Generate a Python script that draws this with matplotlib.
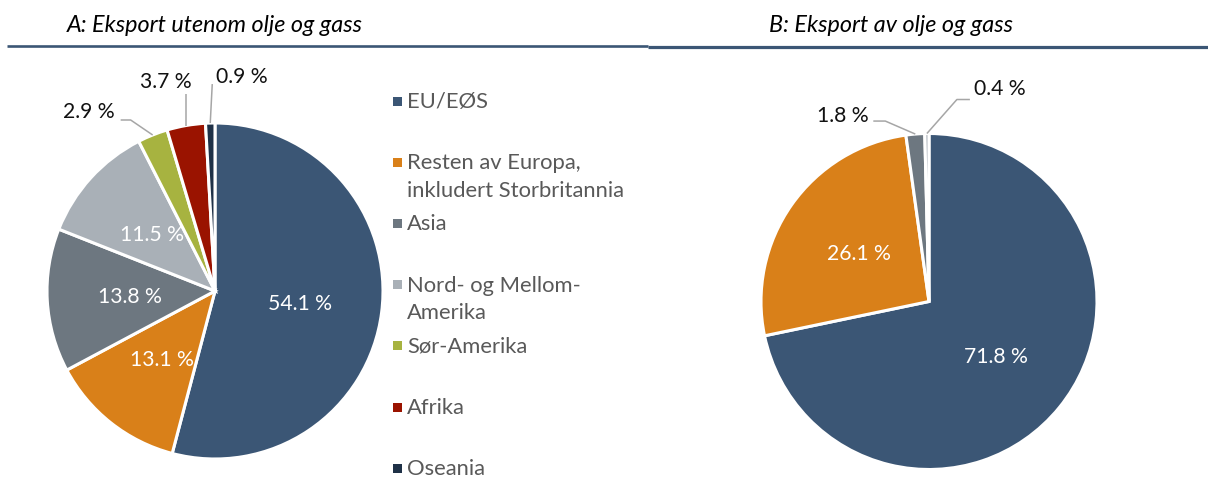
import numpy as np

import matplotlib
matplotlib.use("Agg")
import matplotlib.pyplot as plt
from matplotlib.patches import Rectangle

plt.rcParams['font.family'] = ['Lato', 'DejaVu Sans']

# ------------------------------------------------------------------------------------------
# data

regions = ['EU/EØS', 'Resten av Europa,\ninkludert Storbritannia', 'Asia',
           'Nord- og Mellom-\nAmerika', 'Sør-Amerika', 'Afrika', 'Oseania']
colors = ['#3B5675', '#D98019', '#6D7780', '#A9B0B7', '#A7B340', '#9A1300', '#1F3147']

share_a = [54.1, 13.1, 13.8, 11.5, 2.9, 3.7, 0.9]   # eksport utenom olje og gass
share_b = [71.8, 26.1, 1.8, 0.4]                     # eksport av olje og gass

title_a = 'A: Eksport utenom olje og gass'
title_b = 'B: Eksport av olje og gass'

# ------------------------------------------------------------------------------------------
# layout (everything in pixels, y measured from the top of the picture)

W, H = 1208, 479
LINE_COL = '#A6A6A6'
LABEL_FS = 15.2


def Y(y_img):
    return H - y_img


fig = plt.figure(figsize=(W / 100, H / 100), dpi=100)
ax = fig.add_axes([0, 0, 1, 1])

# outside labels: slice index -> (leader elbow, leader end, text offset, ha), pixel offsets from the slice edge
outside_a = {
    4: ((-22, 15), (-32, 15), (-38, 17), 'right'),
    5: ((0, 32), (0, 32), (-20, 38), 'center'),
    6: ((2, 39), (2, 39), (6, 40), 'left'),
}
outside_b = {
    2: ((-30, 13), (-42, 13), (-47, 12), 'right'),
    3: ((30, 34), (43, 34), (47, 39), 'left'),
}


def draw_pie(values, cx, cy, radius, outside):
    wedges, _ = ax.pie(values, colors=colors[:len(values)], startangle=90, counterclock=False,
                       center=(cx, Y(cy)), radius=radius, frame=True,
                       wedgeprops=dict(edgecolor='white', linewidth=2.2))
    for i, (w, v) in enumerate(zip(wedges, values)):
        mid = np.deg2rad((w.theta1 + w.theta2) / 2)
        label = f'{v:.1f} %'
        if i in outside:
            elbow, end, toff, ha = outside[i]
            ex = cx + radius * np.cos(mid)
            ey = Y(cy) + radius * np.sin(mid)
            ax.plot([ex, ex + elbow[0], ex + end[0]], [ey, ey + elbow[1], ey + end[1]],
                    color=LINE_COL, lw=1.1, solid_capstyle='butt')
            ax.text(ex + toff[0], ey + toff[1], label, ha=ha, va='baseline',
                    fontsize=LABEL_FS, color='#111111')
        else:
            tx = cx + 0.51 * radius * np.cos(mid)
            ty = Y(cy) + 0.51 * radius * np.sin(mid)
            ax.text(tx, ty - 7.5, label, ha='center', va='baseline', fontsize=LABEL_FS, color='white')


draw_pie(share_a, 215, 291, 168, outside_a)
draw_pie(share_b, 929, 301.5, 168, outside_b)

# legend, one entry every 61 px, wrapped lines 27 px apart
for i, (name, col) in enumerate(zip(regions, colors)):
    ly = 101 + i * 61.2
    ax.add_patch(Rectangle((393, Y(ly) - 4.5), 9, 9, facecolor=col, edgecolor='none'))
    for k, part in enumerate(name.split('\n')):
        ax.text(407, Y(ly + 7 + k * 27.5), part, ha='left', va='baseline', fontsize=15.8,
                color='#595959')

# titles with rule underneath
ax.text(215, Y(32), title_a, ha='center', va='baseline', fontsize=16.8, style='italic', color='black')
ax.text(891, Y(32), title_b, ha='center', va='baseline', fontsize=16.8, style='italic', color='black')
ax.plot([7, 648], [Y(46.3), Y(46.3)], color='#3B5675', lw=1.9, solid_capstyle='butt')
ax.plot([648, W], [Y(46.5), Y(46.5)], color='#3B5675', lw=2.3, solid_capstyle='butt')

ax.set_xlim(0, W)
ax.set_ylim(0, H)
ax.axis('off')

fig.savefig('out.png', dpi=100)
